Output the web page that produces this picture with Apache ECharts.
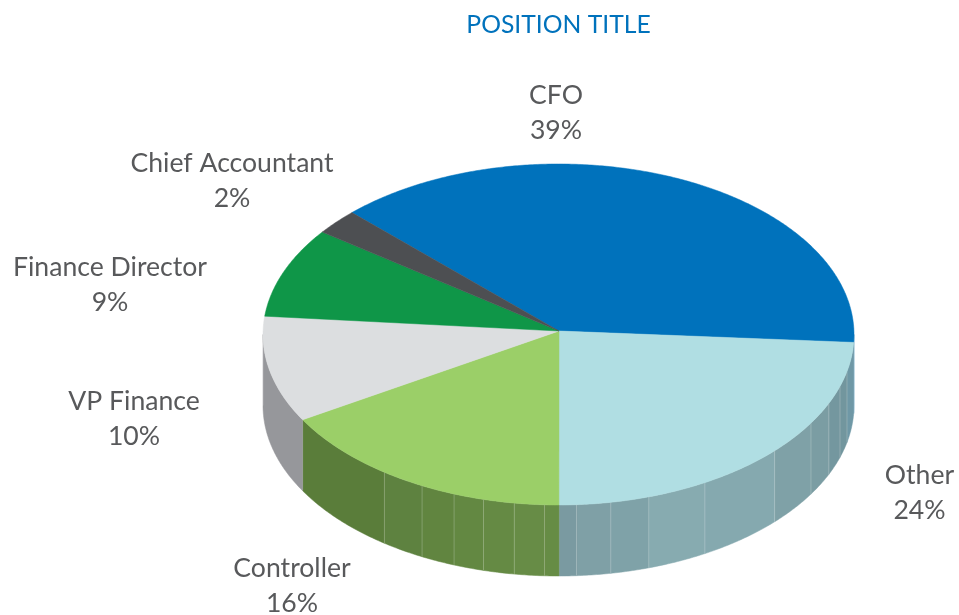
<!DOCTYPE html>
<html>
<head>
<meta charset="utf-8">
<style>
html, body { margin: 0; padding: 0; background: #fff; }
#chart { width: 959px; height: 615px; }
</style>
<script src="https://cdn.jsdelivr.net/npm/echarts@6/dist/echarts.min.js"></script>
</head>
<body>
<div id="chart"></div>
<script>
// slices run clockwise, starting from the CFO edge at the upper left
var categories = ['CFO', 'Other', 'Controller', 'VP Finance', 'Finance Director', 'Chief Accountant'];
var shares = [38.6, 23.9, 16.4, 10.0, 8.6, 2.45];
var topColors = ['#0072bc', '#b0dee3', '#9bcf68', '#dcdee0', '#0f9648', '#4d4f52'];

// the side wall is faceted in the original, angle in degrees clockwise from top
var wallEdges = [
    [],
    [102.5, 107.7, 113.8, 121.3, 133, 150.3, 162.2, 169.8, 176.5],
    [182.7, 188.6, 194.7, 200.7, 207.5, 216.1],
    [], [], []
];
var wallShades = [
    ['#5b9fc4'],
    ['#6f98a6', '#72969e', '#74979f', '#7b9da3', '#7fa1a7', '#85a9af', '#87abb0', '#7fa2a8', '#7fa0a6', '#7a9aa1'],
    ['#668c45', '#678c46', '#658a44', '#638842', '#618540', '#5e8240', '#5a7d3a'],
    ['#96979b'], ['#0b6f36'], ['#3a3b3d']
];

// label centres, px
var labelSpots = [[556, 113], [919.5, 493], [292, 586], [134, 419], [110, 285], [232, 181]];

var cx = 558.5, cy = 334.5, rx = 295.5, ry = 170.5, depth = 71;
var apex = [559, 331];
var startAngle = 314.8;
var tilt = (cy - apex[1]) / ry;   // how far the hub sits above the ellipse centre

var total = shares.reduce(function (a, b) { return a + b; }, 0);

// pie angle -> angle on the drawn ellipse, back of the pie gets squeezed
function warp(deg) {
    var a = deg * Math.PI / 180;
    var u = Math.sin(a), v = Math.cos(a);
    var k = 1 + tilt * v;
    var u2 = u * Math.sqrt(1 - tilt * tilt) / k;
    var v2 = (v + tilt) / k;
    var out = Math.atan2(u2, v2) * 180 / Math.PI;
    // keep it on the same turn as the input
    while (out < deg - 180) out += 360;
    while (out > deg + 180) out -= 360;
    return out;
}

function rim(deg, drop) {
    var a = deg * Math.PI / 180;
    return [cx + rx * Math.sin(a), cy - ry * Math.cos(a) + (drop || 0)];
}

function arc(from, to, drop) {
    var pts = [];
    var n = Math.max(2, Math.ceil(Math.abs(to - from) * 2));
    for (var i = 0; i <= n; i++) {
        pts.push(rim(from + (to - from) * i / n, drop));
    }
    return pts;
}

function sliceRange(index) {
    var before = 0;
    for (var i = 0; i < index; i++) before += shares[i];
    var a0 = startAngle + before / total * 360;
    var a1 = a0 + shares[index] / total * 360;
    return [warp(a0), warp(a1)];
}

function wallPieces(index, from, to) {
    var kids = [];
    // bring the slice into the turn where the front half is 90..270
    var offset = 0;
    if (to > 360 + 90) offset = -360;
    var lo = Math.max(from + offset, 90), hi = Math.min(to + offset, 270);
    if (from + offset < 90 && to + offset <= 90) return kids;
    if (hi <= lo) return kids;
    var edges = [lo].concat(wallEdges[index], [hi]);
    for (var i = 0; i < edges.length - 1; i++) {
        var top = arc(edges[i], edges[i + 1], 0);
        var bottom = arc(edges[i + 1], edges[i], depth);
        kids.push({
            type: 'polygon',
            shape: { points: top.concat(bottom) },
            style: { fill: wallShades[index][i], stroke: wallShades[index][i], lineWidth: 0.5 }
        });
    }
    for (var j = 1; j < edges.length; j++) {
        kids.push({
            type: 'line',
            shape: {
                x1: rim(edges[j], 0)[0], y1: rim(edges[j], 0)[1],
                x2: rim(edges[j], depth)[0], y2: rim(edges[j], depth)[1]
            },
            style: { stroke: 'rgba(255,255,255,0.22)', lineWidth: 1 }
        });
    }
    return kids;
}

function renderSlice(params, api) {
    var i = params.dataIndex;
    var range = sliceRange(i);
    var kids = wallPieces(i, range[0], range[1]);
    kids.push({
        type: 'polygon',
        shape: { points: [apex].concat(arc(range[0], range[1], 0)) },
        style: { fill: topColors[i], stroke: topColors[i], lineWidth: 0.5 }
    });
    kids.push({
        type: 'text',
        x: labelSpots[i][0],
        y: labelSpots[i][1],
        style: {
            text: categories[i] + '\n' + Math.round(api.value(1)) + '%',
            fill: '#58595b',
            fontFamily: 'Lato',
            fontSize: 26.6,
            lineHeight: 35,
            align: 'center',
            verticalAlign: 'middle'
        }
    });
    return { type: 'group', children: kids };
}

var chart = echarts.init(document.getElementById('chart'));

chart.setOption({
    animation: false,
    backgroundColor: '#fff',
    title: {
        text: 'POSITION TITLE',
        left: 553.5,
        top: 8,
        textAlign: 'center',
        textStyle: { color: '#0072bc', fontFamily: 'Lato', fontSize: 24.7, fontWeight: 'normal' }
    },
    series: [{
        type: 'custom',
        coordinateSystem: 'none',
        silent: true,
        renderItem: renderSlice,
        data: categories.map(function (name, i) { return [i, shares[i]]; })
    }]
});
</script>
</body>
</html>
